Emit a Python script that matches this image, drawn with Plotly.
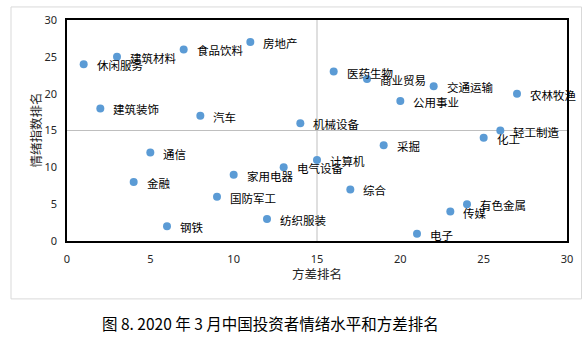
import plotly.graph_objects as go

# Industry names, variance rank (x) and sentiment-index rank (y)
industries = ["休闲服务", "建筑材料", "食品饮料", "房地产", "建筑装饰", "汽车",
              "医药生物", "商业贸易", "交通运输", "农林牧渔", "公用事业", "机械设备",
              "轻工制造", "化工", "采掘", "计算机", "电气设备", "家用电器",
              "通信", "金融", "国防军工", "综合", "有色金属", "传媒",
              "纺织服装", "钢铁", "电子"]
variance_rank = [1, 3, 7, 11, 2, 8,
                 16, 18, 22, 27, 20, 14,
                 26, 25, 19, 15, 13, 10,
                 5, 4, 9, 17, 24, 23,
                 12, 6, 21]
sentiment_rank = [24, 25, 26, 27, 18, 17,
                  23, 22, 21, 20, 19, 16,
                  15, 14, 13, 11, 10, 9,
                  12, 8, 6, 7, 5, 4,
                  3, 2, 1]

axis_ticks = [0, 5, 10, 15, 20, 25, 30]
mid_rank = 15

CJK = "Noto Sans CJK SC"
fig = go.Figure()

fig.add_trace(go.Scatter(
    x=variance_rank, y=sentiment_rank, mode="markers",
    marker=dict(color="#5b9bd5", size=8),
    hoverinfo="skip", showlegend=False,
))

annotations = []
for name, xv, yv in zip(industries, variance_rank, sentiment_rank):
    annotations.append(dict(
        x=xv, y=yv, xref="x", yref="y", text=name, showarrow=False,
        xanchor="left", yanchor="middle", xshift=11, yshift=-1,
        font=dict(family=CJK, size=11.5, color="#000000"),
    ))

# axis titles and caption
annotations.append(dict(x=0.5, y=-0.145, xref="paper", yref="paper", text="方差排名",
                        showarrow=False, xanchor="center", yanchor="middle",
                        font=dict(family=CJK, size=12.5, color="#262626")))
annotations.append(dict(x=-0.064, y=0.5, xref="paper", yref="paper", text="情绪指数排名",
                        showarrow=False, xanchor="center", yanchor="middle", textangle=-90,
                        font=dict(family=CJK, size=12.5, color="#262626")))
annotations.append(dict(x=0.406, y=-0.37, xref="paper", yref="paper",
                        text="图 8. 2020 年 3 月中国投资者情绪水平和方差排名",
                        showarrow=False, xanchor="center", yanchor="middle",
                        font=dict(family=CJK, size=15.5, color="#000000")))

shapes = [
    # quadrant dividers
    dict(type="line", xref="x", yref="paper", x0=mid_rank, x1=mid_rank, y0=0, y1=1,
         line=dict(color="#bfbfbf", width=1), layer="below"),
    dict(type="line", xref="paper", yref="y", x0=0, x1=1, y0=mid_rank, y1=mid_rank,
         line=dict(color="#bfbfbf", width=1), layer="below"),
    # chart-area border
    dict(type="rect", xref="paper", yref="paper", x0=-0.112, x1=1.029, y0=-0.262, y1=1.059,
         line=dict(color="#d9d9d9", width=1), fillcolor="rgba(0,0,0,0)", layer="below"),
]

axis_common = dict(
    range=[0, 30], tickvals=axis_ticks, showgrid=False, zeroline=False,
    showline=True, linecolor="#000000", linewidth=1.5, mirror=True, ticks="",
    tickfont=dict(family="Noto Sans", size=11, color="#262626"),
)

fig.update_layout(
    width=588, height=340,
    margin=dict(l=67, r=21, t=14, b=99),
    paper_bgcolor="#ffffff", plot_bgcolor="#ffffff",
    xaxis=dict(**axis_common, ticklabelstandoff=7),
    yaxis=dict(**axis_common, ticklabelstandoff=6),
    annotations=annotations, shapes=shapes,
)

fig.write_html("out.html")
